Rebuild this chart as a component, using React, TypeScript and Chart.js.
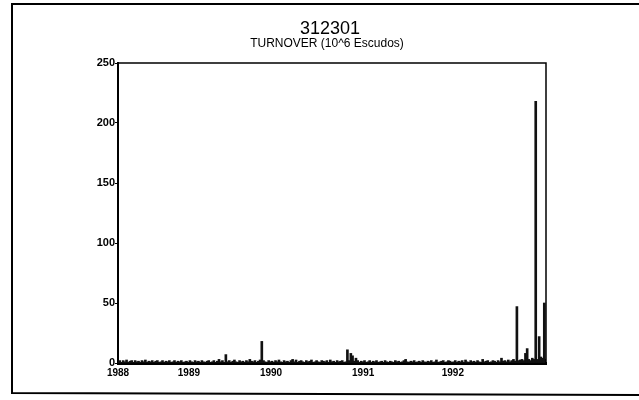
import { useEffect, useRef } from "react";
import { Chart, registerables } from "chart.js";

Chart.register(...registerables);

// Daily turnover series for stock 312301, sampled every few trading days.
const chartTitle = "312301";
const chartSubtitle = "TURNOVER (10^6 Escudos)";
const yearLabels = ["1988", "1989", "1990", "1991", "1992"];
const yearTickDays = [0, 207, 447, 716, 978];
const dayStep = 5;
const lastDay = 1250;
const yMax = 250;
const yStep = 50;

const turnover = [
  1, 2, 0.5, 2, 1, 2.5, 0.5, 1.5, 2, 0.5,
  2, 1, 1.5, 0.5, 2, 1, 2.5, 0.5, 1.5, 1,
  2, 0.5, 1.5, 2, 0.5, 1, 2, 0.5, 1.5, 1,
  2, 0.5, 1, 2, 0.5, 1.5, 1, 2, 0.5, 1,
  1.5, 0.5, 2, 1, 0.5, 2, 1, 1.5, 0.5, 2,
  1, 0.5, 1.5, 2, 0.5, 1, 2, 0.5, 1.5, 3,
  1, 2, 0.5, 7, 1, 2, 0.5, 1.5, 2.5, 1,
  0.5, 2, 1, 1.5, 0.5, 2, 1, 3, 1.5, 1,
  2, 0.5, 1.5, 2.5, 18, 2, 1, 0.5, 2, 1,
  1.5, 0.5, 2, 1, 2.5, 1, 0.5, 2, 1, 1.5,
  0.5, 2, 3, 1, 2.5, 0.5, 1.5, 2, 1, 0.5,
  2, 1, 1.5, 2.5, 0.5, 1, 2, 1, 0.5, 2,
  1.5, 1, 2, 0.5, 2.5, 1, 1.5, 0.5, 2, 1,
  1.5, 2, 0.5, 1, 11, 2, 8, 6, 1.5, 4,
  2, 0.5, 1.5, 1, 2, 0.5, 1, 2, 0.5, 1.5,
  1, 2, 0.5, 1, 1.5, 0.5, 2, 1, 0.5, 1.5,
  1, 0.5, 2, 1, 1.5, 0.5, 1, 2, 3, 1,
  0.5, 1.5, 1, 2, 0.5, 1, 1.5, 0.5, 2, 1,
  0.5, 1.5, 1, 2, 0.5, 1, 2.5, 0.5, 1, 1.5,
  2, 0.5, 1, 2, 1.5, 0.5, 1, 2, 0.5, 1.5,
  1, 2, 0.5, 2.5, 1, 0.5, 2, 1, 1.5, 0.5,
  2, 1, 0.5, 3, 1, 1.5, 2, 0.5, 1, 2,
  1.5, 0.5, 2, 1, 4, 1.5, 2, 1, 2.5, 1,
  2, 3, 1.5, 47, 2, 2.5, 3, 2, 8, 12,
  3, 2, 4, 3, 218, 3, 22, 5, 4, 50,
  3,
];

const W = 639;
const H = 400;
const PLOT_LEFT = 118;
const PLOT_RIGHT = 546;
const PLOT_TOP = 63;
const PLOT_BOTTOM = 363;
const FONT = "'Liberation Sans', Arial, sans-serif";

const framePlugin = {
  id: "frame",
  beforeDraw(chart: any) {
    const { ctx } = chart;
    ctx.save();
    ctx.fillStyle = "#ffffff";
    ctx.fillRect(0, 0, W, H);
    ctx.restore();
  },
  afterDraw(chart: any) {
    const { ctx, chartArea } = chart;
    ctx.save();
    ctx.strokeStyle = "#000";
    // outer page frame
    ctx.lineWidth = 2;
    ctx.beginPath();
    ctx.moveTo(W + 5, 4);
    ctx.lineTo(12, 4);
    ctx.lineTo(12, 393);
    ctx.lineTo(W + 5, 395);
    ctx.stroke();
    // top and right edges of the plot box
    ctx.lineWidth = 1.5;
    ctx.beginPath();
    ctx.moveTo(chartArea.left, chartArea.top);
    ctx.lineTo(chartArea.right, chartArea.top);
    ctx.lineTo(chartArea.right, chartArea.bottom);
    ctx.stroke();
    // titles
    ctx.fillStyle = "#000";
    ctx.textAlign = "center";
    ctx.textBaseline = "middle";
    const cx = (chartArea.left + chartArea.right) / 2 - 2;
    ctx.font = `18px ${FONT}`;
    ctx.fillText(chartTitle, cx, 29);
    ctx.font = `12px ${FONT}`;
    ctx.fillText(chartSubtitle, cx - 3, 44);
    ctx.restore();
  },
};

export default function App() {
  const ref = useRef<HTMLCanvasElement | null>(null);

  useEffect(() => {
    if (!ref.current) return;
    const points = turnover.map((v, i) => ({ x: i * dayStep, y: v }));
    const chart = new Chart(ref.current, {
      type: "bar",
      data: {
        datasets: [
          {
            data: points,
            backgroundColor: "#111",
            borderWidth: 0,
            barThickness: 2,
            grouped: false,
          },
        ],
      },
      options: {
        animation: false,
        responsive: false,
        maintainAspectRatio: false,
        layout: {
          padding: { left: 0, top: PLOT_TOP, right: W - PLOT_RIGHT, bottom: 0 },
        },
        plugins: {
          legend: { display: false },
          tooltip: { enabled: false },
          title: { display: false },
        },
        scales: {
          x: {
            type: "linear",
            offset: false,
            min: 0,
            max: lastDay,
            afterBuildTicks: (scale: any) => {
              scale.ticks = yearTickDays.map((v) => ({ value: v }));
            },
            afterFit: (scale: any) => {
              scale.height = H - PLOT_BOTTOM;
            },
            grid: { display: false, drawTicks: false, offset: false },
            border: { display: true, color: "#000", width: 3 },
            ticks: {
              padding: 4,
              maxRotation: 0,
              autoSkip: false,
              color: "#000",
              font: { family: FONT, size: 10, weight: "bold" },
              callback: (_v: any, i: number) => yearLabels[i],
            },
          },
          y: {
            min: 0,
            max: yMax,
            afterFit: (scale: any) => {
              scale.width = PLOT_LEFT;
            },
            grid: {
              display: true,
              drawOnChartArea: false,
              drawTicks: true,
              tickLength: 3,
              color: "#000",
              lineWidth: 1,
            },
            border: { display: true, color: "#000", width: 2 },
            ticks: {
              stepSize: yStep,
              padding: 0,
              color: "#000",
              font: { family: FONT, size: 11, weight: "bold" },
            },
          },
        },
      },
      plugins: [framePlugin],
    });
    return () => chart.destroy();
  }, []);

  return (
    <div style={{ position: "fixed", left: 0, top: 0, width: W, height: H, overflow: "hidden", background: "#fff" }}>
      <canvas ref={ref} width={W} height={H} style={{ width: W, height: H, display: "block" }} />
    </div>
  );
}
